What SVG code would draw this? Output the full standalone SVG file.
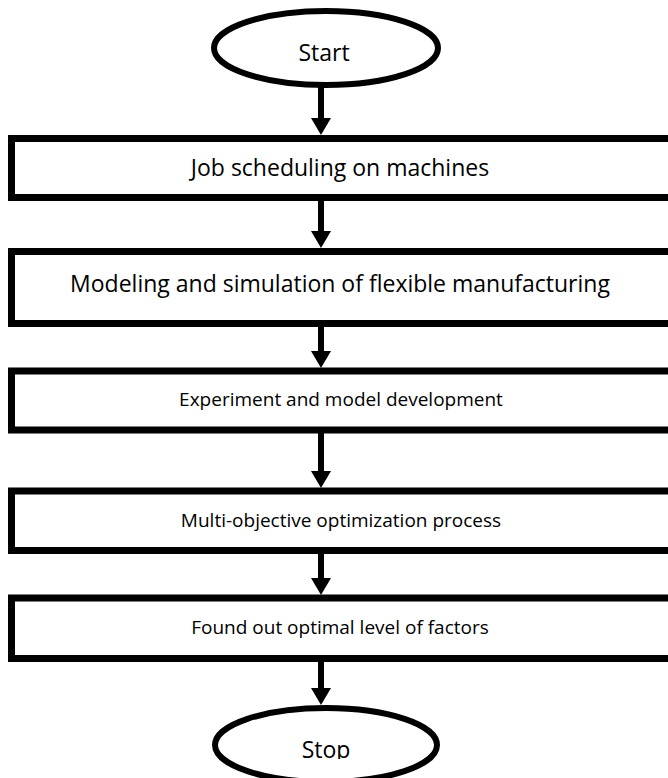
<svg xmlns="http://www.w3.org/2000/svg" width="668" height="778" viewBox="0 0 668 778">
  <style>
    .box { fill: #fff; stroke: #000; stroke-width: 7; }
    .term { fill: #fff; stroke: #000; stroke-width: 6; }
    .lbl { font-family: "Open Sans", "Noto Sans", "Liberation Sans", sans-serif; font-size: 23px; fill: #000; text-anchor: middle; }
    .sm { font-size: 19px; }
    .conn { stroke: #000; stroke-width: 6; fill: none; marker-end: url(#ah); }
  </style>
  <defs>
    <marker id="ah" viewBox="0 0 17 20" markerWidth="17" markerHeight="20" markerUnits="userSpaceOnUse" refX="0" refY="10" orient="auto">
      <path d="M0,0 L17,10 L0,20 Z" fill="#000"/>
    </marker>
    <clipPath id="stopclip"><rect x="0" y="0" width="668" height="759"/></clipPath>
  </defs>
  <rect width="668" height="778" fill="#fff"/>
  <g id="connectors">
    <line class="conn" x1="321" y1="77" x2="321" y2="118"/>
    <line class="conn" x1="321" y1="201" x2="321" y2="231"/>
    <line class="conn" x1="321" y1="327" x2="321" y2="351"/>
    <line class="conn" x1="321" y1="433" x2="321" y2="471"/>
    <line class="conn" x1="321" y1="554" x2="321" y2="578"/>
    <line class="conn" x1="321" y1="662" x2="321" y2="688"/>
  </g>
  <g id="start">
    <ellipse class="term" cx="326" cy="48" rx="112" ry="37"/>
    <text class="lbl" x="324" y="61">Start</text>
  </g>
  <g id="n1">
    <rect class="box" x="11.5" y="138.5" width="670" height="59"/>
    <text class="lbl" x="340" y="176">Job scheduling on machines</text>
  </g>
  <g id="n2">
    <rect class="box" x="11.5" y="251.5" width="670" height="72"/>
    <text class="lbl" x="340" y="292">Modeling and simulation of flexible manufacturing</text>
  </g>
  <g id="n3">
    <rect class="box" x="11.5" y="371" width="670" height="59"/>
    <text class="lbl sm" x="341" y="406">Experiment and model development</text>
  </g>
  <g id="n4">
    <rect class="box" x="11.5" y="491" width="670" height="59.5"/>
    <text class="lbl sm" x="341" y="527">Multi-objective optimization process</text>
  </g>
  <g id="n5">
    <rect class="box" x="11.5" y="598" width="670" height="60.5"/>
    <text class="lbl sm" x="340" y="634">Found out optimal level of factors</text>
  </g>
  <g id="stop">
    <ellipse class="term" cx="326" cy="745" rx="111" ry="37"/>
    <text class="lbl" x="326" y="758" clip-path="url(#stopclip)">Stop</text>
  </g>
</svg>
